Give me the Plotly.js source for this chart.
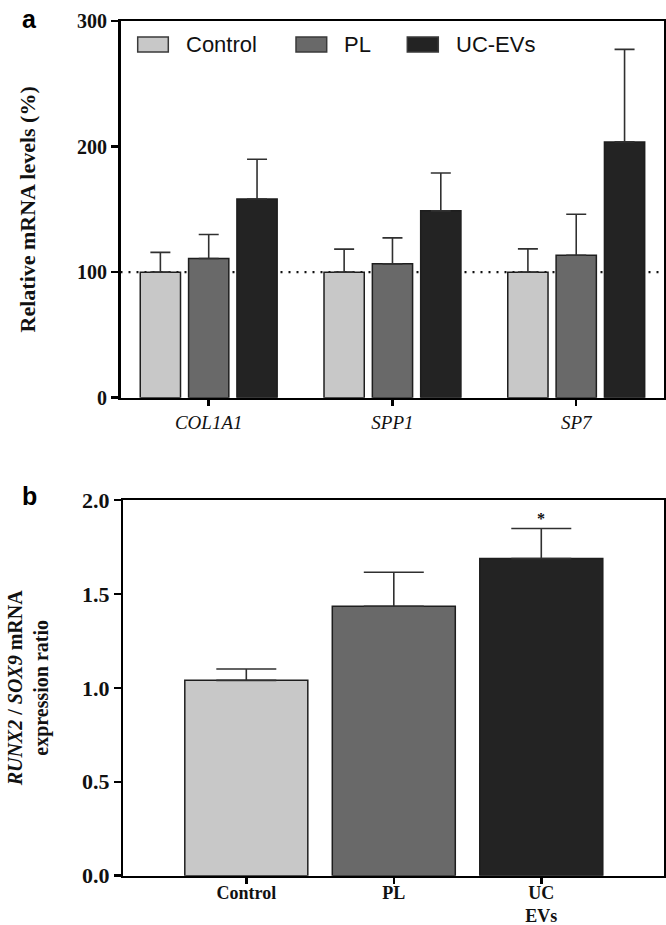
<!DOCTYPE html>
<html>
<head>
<meta charset="utf-8">
<script src="https://cdn.plot.ly/plotly-3.0.1.min.js"></script>
<style>
  html, body { margin: 0; padding: 0; background: #ffffff; }
  #chart { width: 666px; height: 925px; }
</style>
</head>
<body>
<div id="chart"></div>
<script>
// ---------- Data (panel a) ----------
const genes = ['COL1A1', 'SPP1', 'SP7'];
const groupNames = ['Control', 'PL', 'UC-EVs'];
const controlMean = [100, 100, 100];
const controlErr = [15.7, 18.3, 18.5];
const plMean = [110.9, 106.6, 113.5];
const plErr = [19.1, 20.7, 32.6];
const ucMean = [158.3, 148.8, 203.7];
const ucErr = [31.6, 30.2, 73.7];
const referenceLevel = 100;
const yTicksA = [0, 100, 200, 300];

// ---------- Data (panel b) ----------
const ratioCategories = ['Control', 'PL', 'UC-EVs'];
const ratioTickText = ['Control', 'PL', 'UC<br>EVs'];
const ratioMean = [1.04, 1.434, 1.688];
const ratioErr = [0.06, 0.181, 0.16];
const yTicksB = [0, 0.5, 1.0, 1.5, 2.0];
const significance = ['', '', '*'];

// ---------- Styling ----------
const W = 666, H = 925;
const fills = ['#c8c8c8', '#696969', '#232323'];
const serif = 'Liberation Serif, Times New Roman, serif';
const sans = 'Liberation Sans, Arial, sans-serif';
const px = v => v / W;
const py = v => 1 - v / H;

function errBar(arr, w) {
  return { type: 'data', array: arr, arrayminus: arr.map(() => 0), symmetric: false,
           visible: true, color: '#303030', thickness: 1.6, width: w };
}

const means = [controlMean, plMean, ucMean];
const errs = [controlErr, plErr, ucErr];

const traces = groupNames.map((name, i) => ({
  type: 'bar', name: name, x: genes, y: means[i],
  xaxis: 'x', yaxis: 'y',
  marker: { color: fills[i], line: { color: '#1e1e1e', width: 1.5 } },
  error_y: errBar(errs[i], 10),
  showlegend: false, hoverinfo: 'skip'
}));

traces.push({
  type: 'bar', x: ratioCategories, y: ratioMean,
  xaxis: 'x2', yaxis: 'y2',
  marker: { color: fills, line: { color: '#1e1e1e', width: 1.5 } },
  error_y: errBar(ratioErr, 30),
  width: 0.834,
  showlegend: false, hoverinfo: 'skip'
});

const axisCommon = {
  showline: true, linecolor: '#000', linewidth: 2.5, mirror: true,
  ticks: 'outside', tickcolor: '#000', tickwidth: 2.5,
  showgrid: false, zeroline: false, fixedrange: true
};

// custom legend
const legendBoxes = [[137.7, 168.3], [296, 326.7], [407.3, 438.3]];
const legendTextX = [184.3, 342.3, 454.3];
const shapes = [];
const annotations = [];
groupNames.forEach((name, i) => {
  shapes.push({ type: 'rect', xref: 'paper', yref: 'paper',
    x0: px(legendBoxes[i][0]), x1: px(legendBoxes[i][1]), y0: py(52), y1: py(37),
    fillcolor: fills[i], line: { color: '#3a3a3a', width: 1.5 } });
  annotations.push({ xref: 'paper', yref: 'paper', x: px(legendTextX[i]), y: py(44.5),
    xanchor: 'left', yanchor: 'middle', showarrow: false, text: name,
    font: { family: sans, size: 22, color: '#111' } });
});

shapes.push({ type: 'line', xref: 'x domain', yref: 'y', x0: 0, x1: 1,
  y0: referenceLevel, y1: referenceLevel, layer: 'below',
  line: { color: '#111', width: 2.2, dash: '2px,6px' } });

// significance star
ratioCategories.forEach((c, i) => {
  if (significance[i]) {
    annotations.push({ xref: 'x2', yref: 'y2', x: c, y: ratioMean[i] + ratioErr[i],
      yanchor: 'bottom', yshift: 0, showarrow: false, text: significance[i],
      font: { family: serif, size: 16, color: '#111', weight: 'bold' } });
  }
});

// panel letters
annotations.push({ xref: 'paper', yref: 'paper', x: px(20), y: py(3), xanchor: 'left', yanchor: 'top',
  showarrow: false, text: 'a', font: { family: sans, size: 25, color: '#000', weight: 'bold' } });
annotations.push({ xref: 'paper', yref: 'paper', x: px(20), y: py(480), xanchor: 'left', yanchor: 'top',
  showarrow: false, text: 'b', font: { family: sans, size: 25, color: '#000', weight: 'bold' } });

const layout = {
  width: W, height: H,
  margin: { l: 0, r: 0, t: 0, b: 0 },
  paper_bgcolor: '#fff', plot_bgcolor: '#fff',
  barmode: 'group', bargap: 0.211, bargroupgap: 0.167,
  showlegend: false,
  xaxis: Object.assign({}, axisCommon, {
    domain: [px(120.5), px(663.7)], anchor: 'y',
    type: 'category', range: [-0.48, 2.476], ticklen: 6,
    tickfont: { family: serif, size: 19, color: '#111', style: 'italic' }
  }),
  yaxis: Object.assign({}, axisCommon, {
    domain: [py(397.7), py(21)], anchor: 'x',
    range: [0, 300], tickvals: yTicksA, ticklen: 7,
    tickfont: { family: serif, size: 20, color: '#111', weight: 'bold' },
    title: { text: 'Relative mRNA levels (%)', standoff: 36,
             font: { family: serif, size: 22, color: '#111', weight: 'bold' } }
  }),
  xaxis2: Object.assign({}, axisCommon, {
    domain: [px(123.3), px(664)], anchor: 'y2',
    type: 'category', range: [-0.834, 2.832], ticklen: 6,
    tickvals: ratioCategories, ticktext: ratioTickText, ticklabelstandoff: -7,
    tickfont: { family: serif, size: 18, color: '#111', weight: 'bold' }
  }),
  yaxis2: Object.assign({}, axisCommon, {
    domain: [py(875.7), py(500)], anchor: 'x2',
    range: [0, 2], tickvals: yTicksB, tickformat: '.1f', ticklen: 7,
    tickfont: { family: serif, size: 22, color: '#111', weight: 'bold' },
    title: { text: '<i>RUNX2</i> / <i>SOX9</i> mRNA<br>expression ratio', standoff: 28,
             font: { family: serif, size: 20, color: '#111', weight: 'bold' } }
  }),
  shapes: shapes,
  annotations: annotations
};

Plotly.newPlot('chart', traces, layout, { staticPlot: true, displayModeBar: false });
</script>
</body>
</html>
